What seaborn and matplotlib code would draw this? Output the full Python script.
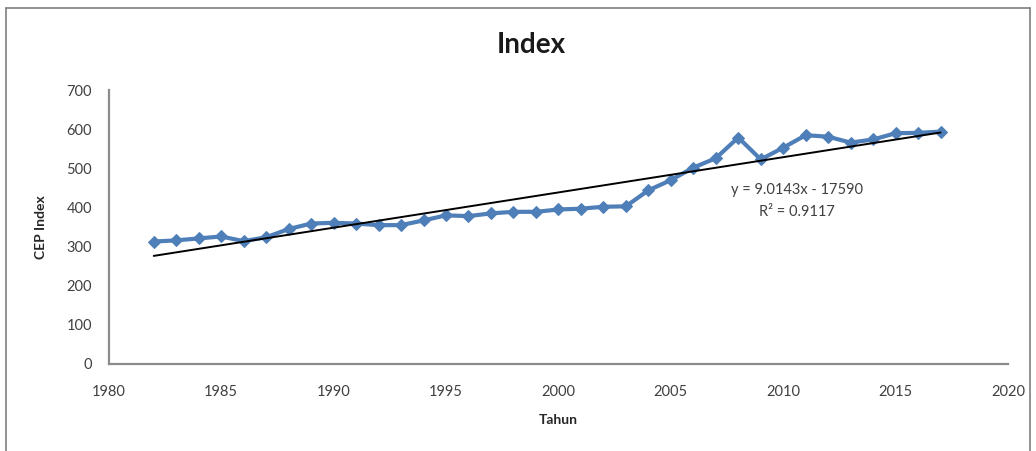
import matplotlib
matplotlib.use("Agg")
import matplotlib.pyplot as plt
from matplotlib.lines import Line2D
import numpy as np
import pandas as pd
import seaborn as sns

# CEP index by year
years = list(range(1982, 2018))
cep_index = [313, 316, 321, 326, 314, 324, 345, 359, 361, 359,
             355, 355, 367, 380, 378, 385, 389, 389, 395, 397,
             402, 403, 444, 470, 502, 526, 579, 523, 553, 585,
             581, 566, 574, 590, 591, 594]

# Linear trend as reported on the chart
trend_slope = 9.0143
trend_intercept = -17590
trend_r2 = 0.9117

x_ticks = [1980, 1985, 1990, 1995, 2000, 2005, 2010, 2015, 2020]
y_ticks = [0, 100, 200, 300, 400, 500, 600, 700]

sns.set_theme(style="white")
plt.rcParams["font.family"] = ["Lato", "DejaVu Sans"]

df = pd.DataFrame({"Tahun": years, "CEP Index": cep_index})
trend_x = np.array([years[0], years[-1]], dtype=float)
trend_df = pd.DataFrame({"Tahun": trend_x,
                         "Trend": trend_slope * trend_x + trend_intercept})

fig = plt.figure(figsize=(10.36, 4.51), dpi=100)
ax = fig.add_axes([0.105, 0.193, 0.868, 0.607])

sns.lineplot(data=df, x="Tahun", y="CEP Index", ax=ax, color="#4F7FB8",
             linewidth=3, marker="D", markersize=6.5, markeredgecolor="#4F7FB8")
sns.lineplot(data=trend_df, x="Tahun", y="Trend", ax=ax, color="black",
             linewidth=1.4)

ax.set_xlim(1980, 2020)
ax.set_ylim(0, 700)
ax.set_xticks(x_ticks)
ax.set_yticks(y_ticks)
ax.tick_params(axis="both", labelsize=10.5, colors="#404040", length=0)
ax.tick_params(axis="x", pad=15)
ax.tick_params(axis="y", pad=12)
for lab in ax.get_xticklabels() + ax.get_yticklabels():
    lab.set_color("#404040")

for side in ["top", "right"]:
    ax.spines[side].set_visible(False)
for side in ["left", "bottom"]:
    ax.spines[side].set_color("#8C8C8C")
    ax.spines[side].set_linewidth(1.6)

ax.set_xlabel("Tahun", fontsize=10, fontweight="bold", color="#262626",
              labelpad=11)
ax.set_ylabel("CEP Index", fontsize=10, fontweight="bold", color="#262626",
              labelpad=14)

fig.text(0.513, 0.9, "Index", ha="center", va="center", fontsize=20,
         fontweight="bold", color="#1a1a1a")

ax.text(2010.6, 446, f"y = {trend_slope}x - {abs(trend_intercept)}",
        ha="center", va="center", fontsize=10.5, color="#404040")
ax.text(2010.6, 388, f"R² = {trend_r2}", ha="center", va="center",
        fontsize=10.5, color="#404040")

# chart-area frame
frame_kw = dict(color="#7F7F7F", linewidth=1.2, transform=fig.transFigure)
fig.add_artist(Line2D([0.006, 0.994], [0.982, 0.982], **frame_kw))
fig.add_artist(Line2D([0.006, 0.006], [0.0, 0.982], **frame_kw))
fig.add_artist(Line2D([0.994, 0.994], [0.0, 0.982], **frame_kw))

fig.savefig("out.png", dpi=100)
